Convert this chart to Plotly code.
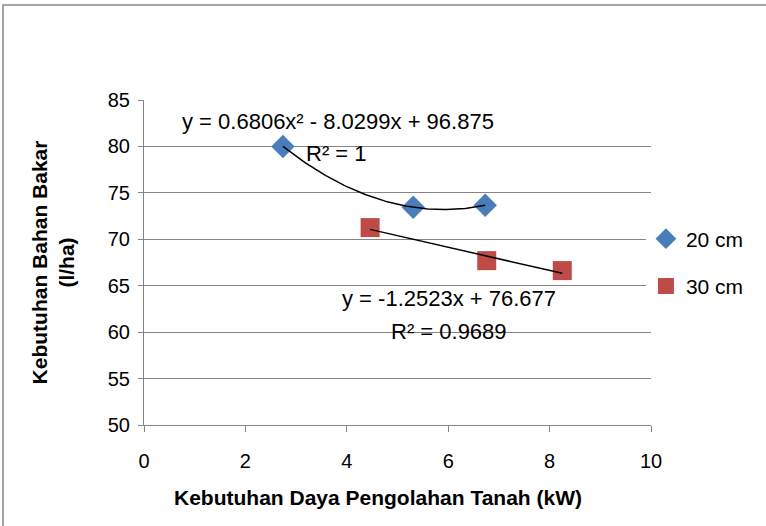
import numpy as np
import plotly.graph_objects as go

x20 = [2.74, 5.31, 6.73]
y20 = [80.0, 73.45, 73.66]
x30 = [4.46, 6.76, 8.25]
y30 = [71.26, 67.7, 66.63]
eq20 = ["y = 0.6806x² - 8.0299x + 96.875", "R² = 1"]
eq30 = ["y = -1.2523x + 76.677", "R² = 0.9689"]
xticks = [0, 2, 4, 6, 8, 10]
yticks = [50, 55, 60, 65, 70, 75, 80, 85]
xtitle = "Kebutuhan Daya Pengolahan Tanah (kW)"
ytitle = "Kebutuhan Bahan Bakar<br>(l/ha)"

FONT = "Liberation Sans"
L, R, T, B = 144, 651, 100, 425
W, H = 766, 526
GRAY = "#868686"

fig = go.Figure()

fig.add_trace(go.Scatter(x=x20, y=y20, mode="markers", name="20 cm", legendgroup="a",
                         marker=dict(symbol="diamond", size=18, color="#4a7ebb")))
fig.add_trace(go.Scatter(x=x30, y=y30, mode="markers", name="30 cm", legendgroup="b",
                         marker=dict(symbol="square", size=19, color="#be4b48")))

# trendlines fitted from the data
c2 = np.polyfit(x20, y20, 2)
xs = np.linspace(min(x20), max(x20), 100)
fig.add_trace(go.Scatter(x=xs, y=np.polyval(c2, xs), mode="lines",
                         line=dict(color="black", width=1.5), showlegend=False, hoverinfo="skip"))
c1 = np.polyfit(x30, y30, 1)
xs1 = np.linspace(min(x30), max(x30), 2)
fig.add_trace(go.Scatter(x=xs1, y=np.polyval(c1, xs1), mode="lines",
                         line=dict(color="black", width=1.5), showlegend=False, hoverinfo="skip"))

ann = [
    dict(x=3.83, y=82.7, text=eq20[0]),
    dict(x=3.8, y=79.2, text=eq20[1]),
    dict(x=6.02, y=63.6, text=eq30[0]),
    dict(x=6.02, y=60.05, text=eq30[1]),
]
for a in ann:
    fig.add_annotation(x=a["x"], y=a["y"], text=a["text"], showarrow=False,
                       font=dict(family=FONT, size=22, color="black"))

def px2px(p):
    return (p - L) / (R - L)
def py2py(p):
    return (B - p) / (B - T)

fig.add_annotation(xref="paper", yref="paper", x=px2px(378), y=py2py(497),
                   xanchor="center", yanchor="middle",
                   text="<b>" + xtitle + "</b>", showarrow=False,
                   font=dict(family=FONT, size=21, color="black"))

fig.add_shape(type="rect", xref="paper", yref="paper",
              x0=px2px(3), x1=px2px(900), y0=py2py(5), y1=py2py(700),
              line=dict(color=GRAY, width=1.5), layer="below")

fig.update_layout(
    width=W, height=H,
    margin=dict(l=L, r=W - R, t=T, b=H - B),
    paper_bgcolor="white", plot_bgcolor="white",
    font=dict(family=FONT, size=20, color="black"),
    showlegend=True,
    legend=dict(x=0.99, y=0.5, xanchor="left", yanchor="middle",
                font=dict(family=FONT, size=21), tracegroupgap=17,
                itemsizing="trace"),
    xaxis=dict(range=[0, 10], tickvals=xticks, showgrid=False, zeroline=False,
               showline=True, linecolor=GRAY, linewidth=1,
               ticks="outside", ticklen=6, tickcolor=GRAY,
               ticklabelstandoff=12),
    yaxis=dict(range=[50, 85], tickvals=yticks, showgrid=True, gridcolor=GRAY,
               gridwidth=1, zeroline=False,
               showline=True, linecolor=GRAY, linewidth=1,
               ticks="outside", ticklen=5, tickcolor=GRAY,
               ticklabelstandoff=4,
               title=dict(text="<b>" + ytitle + "</b>",
                          font=dict(family=FONT, size=21), standoff=27)),
)

fig.write_html("out.html")
